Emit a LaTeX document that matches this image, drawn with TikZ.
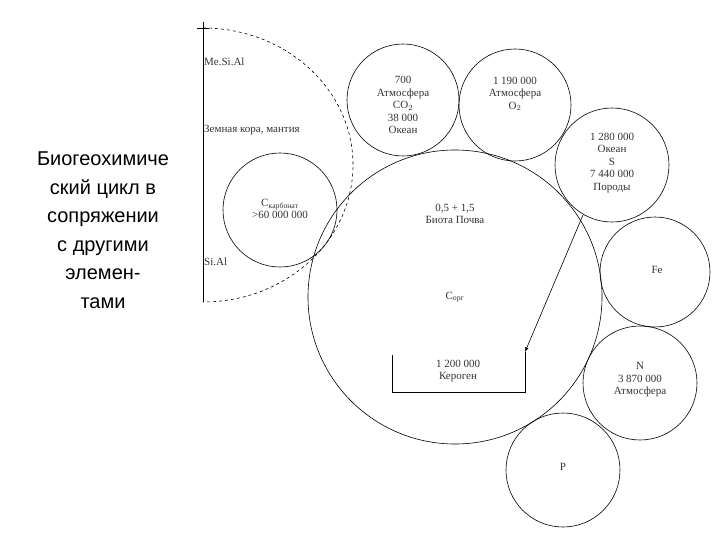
\documentclass[tikz,border=0pt]{standalone}
\usepackage{fontspec}
\setmainfont{Liberation Serif}
\newfontfamily\lsans{Liberation Sans}
\begin{document}
\begin{tikzpicture}[x=1pt,y=-1pt,
  circ/.style={draw,circle,line width=0.6pt},
  lab/.style={font=\fontsize{11}{12.5}\selectfont,align=center,inner sep=0pt,text=black!80}]
\useasboundingbox (0,0) rectangle (720,540);
\draw[line width=0.6pt] (203,22) -- (203,302);
\draw[line width=0.6pt] (197,28) -- (209,28);
\draw[dashed,line width=0.6pt] (203,28) arc[start angle=-90,end angle=90,x radius=150,y radius=137];
\node[circ,minimum size=294pt] (big) at (455,297) {};
\node[circ,minimum size=114pt] (carb) at (280,210) {};
\node[circ,minimum size=112pt] (co2) at (403,100) {};
\node[circ,minimum size=112pt] (o2) at (515,105) {};
\node[circ,minimum size=114pt] (s) at (612,165) {};
\node[circ,minimum size=110pt] (fe) at (655,272) {};
\node[circ,minimum size=114pt] (n) at (640,383) {};
\node[circ,minimum size=114pt] (p) at (563,470) {};
\node[lab,anchor=west] (mesial) at (204,62) {Me.Si.Al};
\node[lab,anchor=west] (zk) at (204,130) {Земная кора, мантия};
\node[lab,anchor=west] (sial) at (204,262) {Si.Al};
\node[lab] (tc) at (280,209) {C$_{\mathrm{карбонат}}$\\>60 000 000};
\node[lab] (tco2) at (403,105) {700\\Атмосфера\\CO$_2$\\38 000\\Океан};
\node[lab] (to2) at (515,94) {1 190 000\\Атмосфера\\O$_2$};
\node[lab] (ts) at (612,163) {1 280 000\\Океан\\S\\7 440 000\\Породы};
\node[lab] (tb) at (455,214) {0,5 + 1,5\\Биота  Почва};
\node[lab] (corg) at (455,297) {C$_{\mathrm{орг}}$};
\node[lab] (tfe) at (657,270) {Fe};
\node[lab] (tn) at (640,380) {N\\3 870 000\\Атмосфера};
\node[lab] (tp) at (563,467) {P};
\node[lab] (ker) at (458,371) {1 200 000\\Кероген};
\coordinate (rtl) at (392,355);
\coordinate (rtr) at (525,352);
\draw[line width=0.6pt] (rtl) -- (392,392) -- (525,392) -- (rtr);
\coordinate (astart) at (583,215);
\draw[line width=0.6pt,-latex] (astart) -- (rtr);
\node[font=\lsans\fontsize{20}{28.5}\selectfont,align=center] (title) at (103,230)
 {Биогеохимиче\\ский цикл в\\сопряжении\\с другими\\элемен-\\тами};
\end{tikzpicture}
\end{document}
